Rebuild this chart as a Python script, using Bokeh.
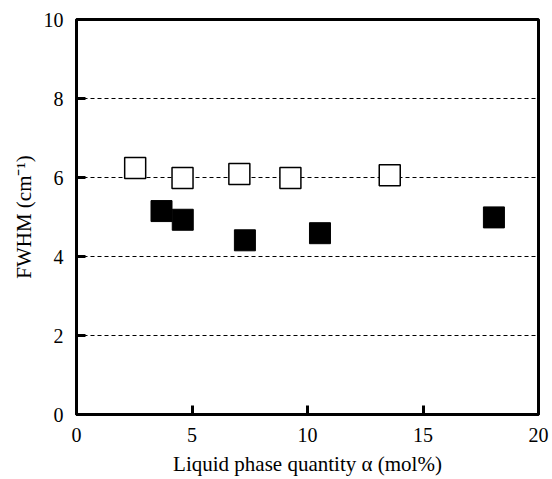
from bokeh.plotting import figure
from bokeh.models import Range1d, FixedTicker
from bokeh.embed import file_html
from bokeh.resources import INLINE

# Data
open_x = [2.54, 4.59, 7.05, 9.26, 13.56]
open_y = [6.24, 5.99, 6.09, 5.99, 6.06]
filled_x = [3.68, 4.60, 7.29, 10.54, 18.07]
filled_y = [5.15, 4.93, 4.41, 4.59, 4.99]

x_ticks = [0, 5, 10, 15, 20]
y_ticks = [0, 2, 4, 6, 8, 10]
x_label = "Liquid phase quantity α (mol%)"
y_label = "FWHM (cm⁻¹)"

FONT = "Liberation Serif"

p = figure(width=552, height=479, output_backend="svg", toolbar_location=None,
           x_range=Range1d(0, 20), y_range=Range1d(0, 10))
p.min_border_left = 76
p.min_border_right = 14
p.min_border_top = 19
p.min_border_bottom = 65
p.background_fill_color = "white"
p.border_fill_color = "white"
p.outline_line_color = "black"
p.outline_line_width = 3
p.outline_line_alpha = 1

p.xgrid.visible = False
p.ygrid.grid_line_color = "black"
p.ygrid.grid_line_dash = "4 3"
p.ygrid.grid_line_width = 1
p.ygrid.ticker = FixedTicker(ticks=y_ticks)

p.xaxis.ticker = FixedTicker(ticks=x_ticks)
p.yaxis.ticker = FixedTicker(ticks=y_ticks)
for ax in (p.xaxis, p.yaxis):
    ax.axis_line_color = "black"
    ax.axis_line_width = 3
    ax.major_tick_in = 9
    ax.major_tick_out = 0
    ax.major_tick_line_width = 3
    ax.major_tick_line_color = "black"
    ax.minor_tick_line_color = None
    ax.major_label_text_font = FONT
    ax.major_label_text_font_size = "20px"
    ax.major_label_text_color = "black"
    ax.axis_label_text_font = FONT
    ax.axis_label_text_font_size = "21px"
    ax.axis_label_text_font_style = "normal"
    ax.axis_label_text_color = "black"

p.xaxis.axis_label = x_label
p.yaxis.axis_label = y_label
p.xaxis.major_label_standoff = 13
p.yaxis.major_label_standoff = 13
p.xaxis.axis_label_standoff = 7
p.yaxis.axis_label_standoff = 5

p.scatter(open_x, open_y, marker="square", size=21, fill_color="white",
          line_color="black", line_width=1.5)
p.scatter(filled_x, filled_y, marker="square", size=21, fill_color="black",
          line_color="black", line_width=1)

open("out.html", "w").write(file_html(p, INLINE))
